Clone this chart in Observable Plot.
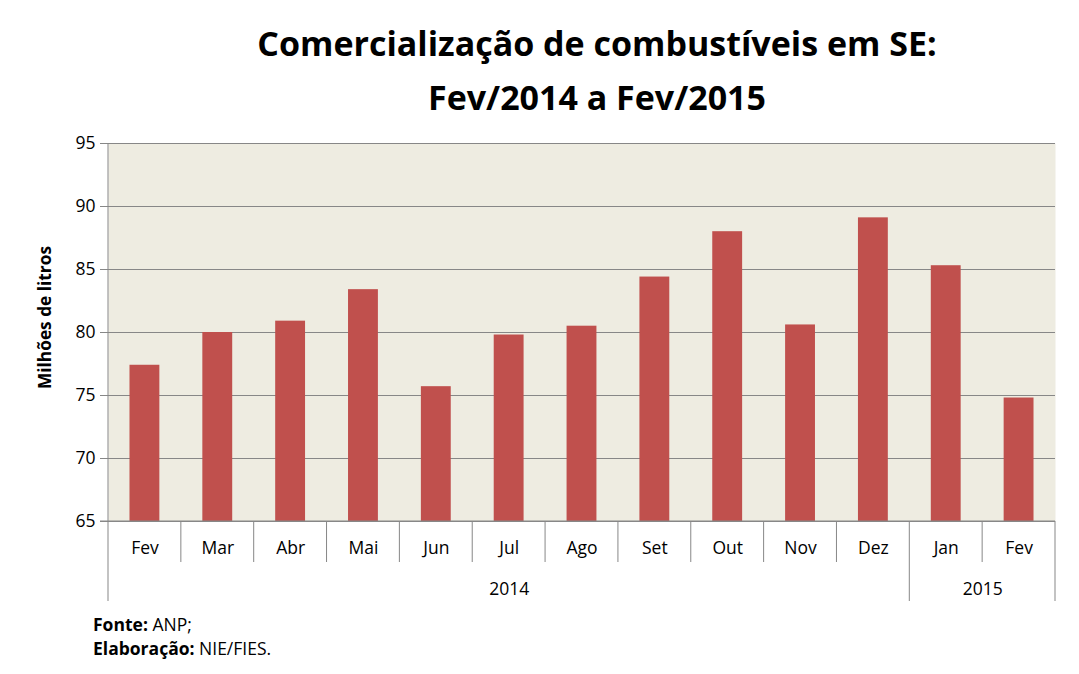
<!DOCTYPE html>
<html>
<head>
<meta charset="utf-8">
<script src="https://cdn.jsdelivr.net/npm/d3@7"></script>
<script src="https://cdn.jsdelivr.net/npm/@observablehq/plot@0.6"></script>
<style>
  html, body { margin: 0; padding: 0; background: #fff; }
  #chart svg { display: block; }
</style>
</head>
<body>
<div id="chart"></div>
<script>
const months = ["Fev","Mar","Abr","Mai","Jun","Jul","Ago","Set","Out","Nov","Dez","Jan","Fev"];
const years  = ["2014","2014","2014","2014","2014","2014","2014","2014","2014","2014","2014","2015","2015"];
const values = [77.4, 80.0, 80.9, 83.4, 75.7, 79.8, 80.5, 84.4, 88.0, 80.6, 89.1, 85.3, 74.8];
const yTicks = [65, 70, 75, 80, 85, 90, 95];
const titleLines = ["Comercialização de combustíveis em SE:", "Fev/2014 a Fev/2015"];
const yLabel = "Milhões de litros";

const data = months.map((m, i) => ({key: `${years[i]}-${i}`, month: m, year: years[i], value: values[i]}));
const keys = data.map(d => d.key);

const W = 1079, H = 674;
const mL = 108, mR = 24, mT = 143, mB = 153;
const step = (W - mL - mR) / keys.length;

const groups = [];
data.forEach((d, i) => {
  const g = groups[groups.length - 1];
  if (g && g.year === d.year) g.last = i; else groups.push({year: d.year, first: i, last: i});
});
const yearLabels = groups.map(g => {
  const mid = (g.first + g.last) / 2;
  const idx = Math.floor(mid);
  return {key: keys[idx], year: g.year, dx: (mid - idx) * step};
});
const monthSeps = keys.slice(1).map((k, i) => ({key: k, long: data[i + 1].year !== data[i].year}));

const font = "'Open Sans', 'Noto Sans', sans-serif";
const gray = "#878787";
const fs = 17.5;

const plot = Plot.plot({
  width: W, height: H,
  marginLeft: mL, marginRight: mR, marginTop: mT, marginBottom: mB,
  style: {fontFamily: font, fontSize: fs + "px", color: "#000", background: "#fff"},
  x: {domain: keys, paddingInner: 0.59, paddingOuter: 0.295, align: 0.5, round: false, axis: null},
  y: {type: "linear", domain: [65, 95], ticks: yTicks, axis: null},
  marks: [
    Plot.frame({fill: "#EEECE1", stroke: null}),
    Plot.gridY(yTicks, {stroke: gray, strokeOpacity: 1, strokeWidth: 1.2}),
    Plot.barY(data, {x: "key", y1: 65, y2: "value", fill: "#C0504D"}),
    Plot.axisY({ticks: yTicks, tickSize: 8, tickPadding: 5, stroke: gray, strokeOpacity: 1, fontSize: fs, label: null}),
    Plot.text([yLabel], {frameAnchor: "left", rotate: -90, dx: -63, dy: -15, textAnchor: "middle", fontWeight: "bold", fontSize: 17.3}),
    Plot.axisX({domain: keys, tickSize: 0, tickPadding: 20, tickFormat: k => data[keys.indexOf(k)].month, fontSize: fs, label: null}),
    ...yearLabels.map(yl => Plot.text([yl], {x: "key", text: "year", frameAnchor: "bottom", dy: 73, dx: yl.dx, fontSize: fs}))
  ]
});

const x = plot.scale("x"), y = plot.scale("y");
const svg = d3.select(plot);
const y0 = y.apply(65);
const yTop = y.apply(95);
const bw = x.bandwidth;
const bandStart = k => x.apply(k) - (step - bw) / 2;
const g = svg.append("g").attr("stroke", gray).attr("stroke-width", 1);
g.append("line").attr("x1", mL).attr("x2", mL).attr("y1", yTop).attr("y2", y0 + 80);
g.append("line").attr("x1", W - mR).attr("x2", W - mR).attr("y1", y0).attr("y2", y0 + 80);
monthSeps.forEach(s => {
  const xx = bandStart(s.key);
  g.append("line").attr("x1", xx).attr("x2", xx).attr("y1", y0).attr("y2", y0 + (s.long ? 80 : 41));
});
g.append("line").attr("x1", mL - 8).attr("x2", W - mR).attr("y1", y0).attr("y2", y0).attr("stroke-width", 1.2);

const t = svg.append("g").attr("font-family", font).attr("font-weight", "bold").attr("font-size", 34).attr("text-anchor", "middle").attr("fill", "#000");
titleLines.forEach((line, i) => t.append("text").attr("x", 597).attr("y", 56 + i * 54).text(line));

const f = svg.append("g").attr("font-family", font).attr("font-size", 17.5).attr("text-anchor", "start").attr("fill", "#000");
const f1 = f.append("text").attr("x", 93).attr("y", 631);
f1.append("tspan").attr("font-weight", "bold").text("Fonte: ");
f1.append("tspan").text("ANP;");
const f2 = f.append("text").attr("x", 93).attr("y", 655);
f2.append("tspan").attr("font-weight", "bold").text("Elaboração: ");
f2.append("tspan").text("NIE/FIES.");

document.getElementById("chart").appendChild(plot);
</script>
</body>
</html>
